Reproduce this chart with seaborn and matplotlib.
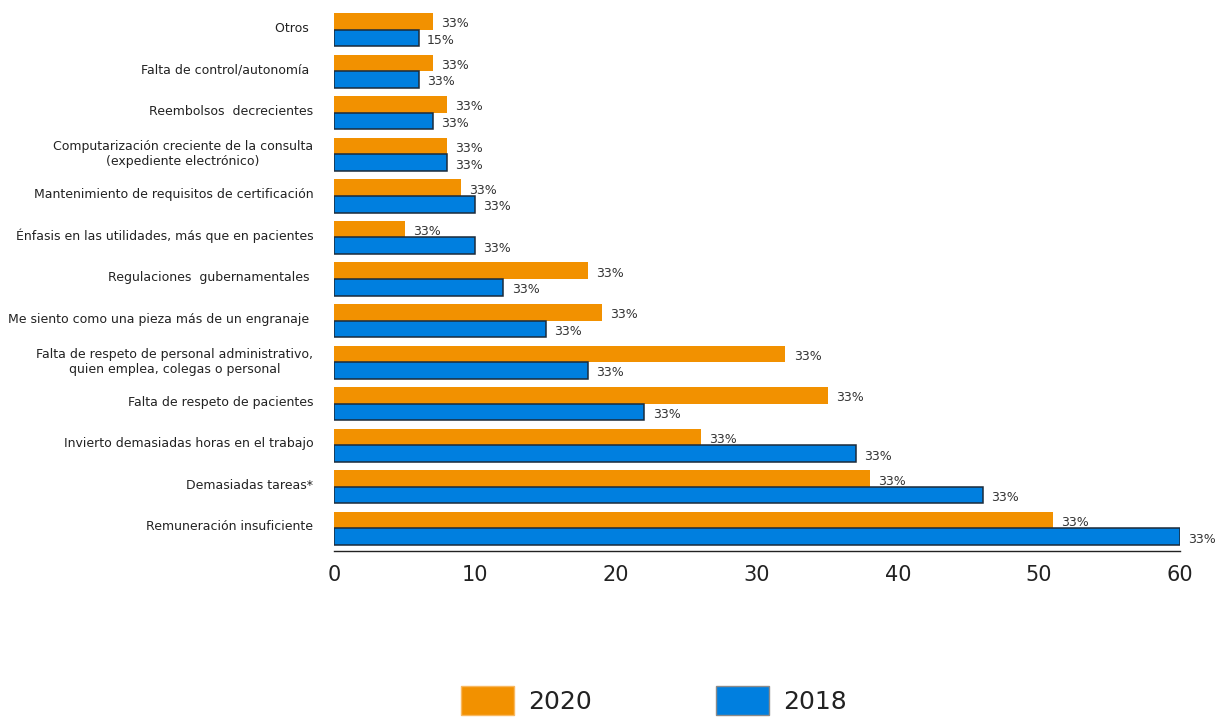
import matplotlib
matplotlib.use("Agg")
import matplotlib.pyplot as plt
from matplotlib.patches import Patch
from matplotlib.transforms import ScaledTranslation
import pandas as pd
import seaborn as sns

categories = [
    "Otros ",
    "Falta de control/autonomía ",
    "Reembolsos  decrecientes",
    "Computarización creciente de la consulta\n(expediente electrónico)",
    "Mantenimiento de requisitos de certificación",
    "Énfasis en las utilidades, más que en pacientes",
    "Regulaciones  gubernamentales ",
    "Me siento como una pieza más de un engranaje ",
    "Falta de respeto de personal administrativo,\nquien emplea, colegas o personal",
    "Falta de respeto de pacientes",
    "Invierto demasiadas horas en el trabajo",
    "Demasiadas tareas*",
    "Remuneración insuficiente",
]
values_2020 = [7, 7, 8, 8, 9, 5, 18, 19, 32, 35, 26, 38, 51]
values_2018 = [6, 6, 7, 8, 10, 10, 12, 15, 18, 22, 37, 46, 60]
labels_2020 = ["33%"] * 13
labels_2018 = ["15%"] + ["33%"] * 12
years = ["2020", "2018"]
x_ticks = [0, 10, 20, 30, 40, 50, 60]

ORANGE = "#F29100"
BLUE = "#007FDF"

df = pd.DataFrame({
    "categoria": categories * 2,
    "valor": values_2020 + values_2018,
    "año": ["2020"] * len(categories) + ["2018"] * len(categories),
})

sns.set_theme(style="white")
plt.rcParams["font.family"] = ["DejaVu Sans"]

fig = plt.figure(figsize=(12.2, 7.19), dpi=100)
ax = fig.add_axes([334 / 1220, 1 - 551 / 719, (1180 - 334) / 1220, (551 - 13) / 719])

sns.barplot(
    data=df, y="categoria", x="valor", hue="año", hue_order=years,
    order=categories, orient="h", palette=[ORANGE, BLUE],
    width=0.8, dodge=True, legend=False, ax=ax, saturation=1,
)

# Orange bars without border, blue bars with a dark outline
for bar in ax.containers[0]:
    bar.set_edgecolor(ORANGE)
    bar.set_linewidth(0)
for bar in ax.containers[1]:
    bar.set_edgecolor("#1b2b3b")
    bar.set_linewidth(1.1)

# Value labels
for container, labels in zip(ax.containers, [labels_2020, labels_2018]):
    for bar, lab in zip(container, labels):
        y = bar.get_y() + bar.get_height() / 2
        ax.text(bar.get_width() + 0.6, y + 0.06, lab, ha="left", va="center",
                fontsize=9, color="#333333", clip_on=False)

ax.set_xlim(0, 60)
ax.set_ylim(len(categories) - 0.6 + 0.144, -0.4)
ax.set_xticks(x_ticks)
ax.set_xlabel("")
ax.set_ylabel("")

for side in ["top", "right", "left"]:
    ax.spines[side].set_visible(False)
ax.spines["bottom"].set_color("#222222")
ax.spines["bottom"].set_linewidth(1.0)

ax.tick_params(axis="x", direction="in", length=4.5, width=1.0, color="#222222",
               labelsize=15, labelcolor="#222222", pad=10)
ax.tick_params(axis="y", length=0, labelsize=9.0, labelcolor="#222222", pad=15)
shift_up = ScaledTranslation(0, 3 / 100, fig.dpi_scale_trans)
for t in ax.get_yticklabels():
    t.set_multialignment("center")
    t.set_transform(t.get_transform() + shift_up)

handles = [
    Patch(facecolor=ORANGE, edgecolor="#f8b860", label="2020"),
    Patch(facecolor=BLUE, edgecolor="#8a8a8a", label="2018"),
]
fig.legend(handles=handles, loc="lower center", bbox_to_anchor=(0.536, -0.026),
           ncol=2, frameon=False, fontsize=18, handlelength=2.1,
           handleheight=1.45, handletextpad=0.55, columnspacing=5.0,
           labelcolor="#222222")

fig.savefig("out.png", dpi=100, facecolor="white")
